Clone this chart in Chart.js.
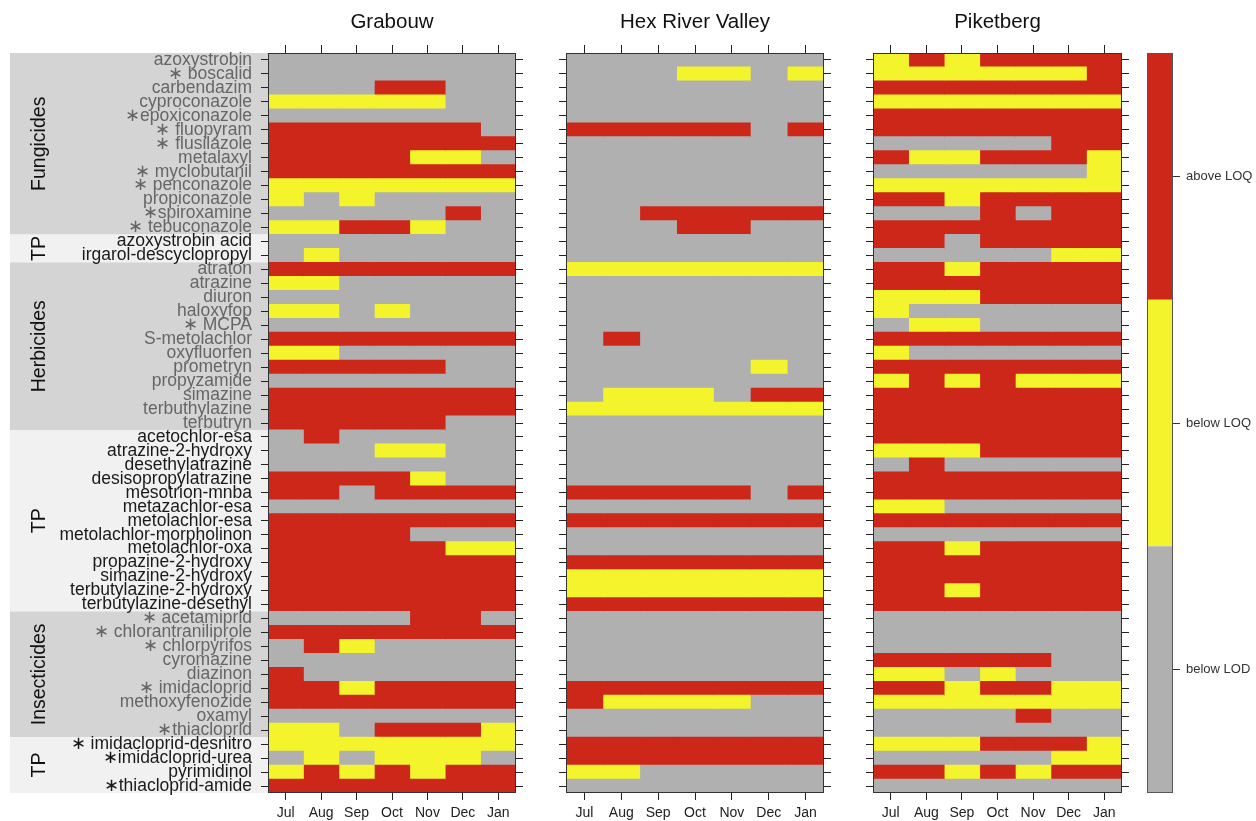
<!DOCTYPE html>
<html>
<head>
<meta charset="utf-8">
<title>Pesticide detections per site and month</title>
<script src="https://cdn.jsdelivr.net/npm/chart.js@4.4.1/dist/chart.umd.min.js"></script>
<style>
  html, body { margin: 0; padding: 0; background: #fff; }
  #wrap { position: relative; width: 1256px; height: 821px; overflow: hidden; }
  #wrap canvas { position: absolute; top: 0; }
</style>
</head>
<body>
<div id="wrap">
  <canvas id="grabouw"></canvas>
  <canvas id="hexriver"></canvas>
  <canvas id="piketberg"></canvas>
  <canvas id="levels"></canvas>
</div>
<script>
const MONTHS = ["Jul", "Aug", "Sep", "Oct", "Nov", "Dec", "Jan"];

const COMPOUNDS = [
  "azoxystrobin", "∗ boscalid", "carbendazim", "cyproconazole", "∗epoxiconazole",
  "∗ fluopyram", "∗ flusilazole", "metalaxyl", "∗ myclobutanil", "∗ penconazole",
  "propiconazole", "∗spiroxamine", "∗ tebuconazole",
  "azoxystrobin acid", "irgarol-descyclopropyl",
  "atraton", "atrazine", "diuron", "haloxyfop", "∗ MCPA", "S-metolachlor",
  "oxyfluorfen", "prometryn", "propyzamide", "simazine", "terbuthylazine", "terbutryn",
  "acetochlor-esa", "atrazine-2-hydroxy", "desethylatrazine", "desisopropylatrazine",
  "mesotrion-mnba", "metazachlor-esa", "metolachlor-esa", "metolachlor-morpholinon",
  "metolachlor-oxa", "propazine-2-hydroxy", "simazine-2-hydroxy",
  "terbutylazine-2-hydroxy", "terbutylazine-desethyl",
  "∗ acetamiprid", "∗ chlorantraniliprole", "∗ chlorpyrifos", "cyromazine", "diazinon",
  "∗ imidacloprid", "methoxyfenozide", "oxamyl", "∗thiacloprid",
  "∗ imidacloprid-desnitro", "∗imidacloprid-urea", "pyrimidinol", "∗thiacloprid-amide"
];

// compound classes (row ranges), TP = transformation products
const GROUPS = [
  { name: "Fungicides", from: 0, to: 12, tp: false },
  { name: "TP", from: 13, to: 14, tp: true },
  { name: "Herbicides", from: 15, to: 26, tp: false },
  { name: "TP", from: 27, to: 39, tp: true },
  { name: "Insecticides", from: 40, to: 48, tp: false },
  { name: "TP", from: 49, to: 52, tp: true }
];

// 0 = below LOD, 1 = below LOQ, 2 = above LOQ
const LEVELS = ["below LOD", "below LOQ", "above LOQ"];
const LEVEL_COLORS = ["#b0b0b0", "#f4f42c", "#cc2718"];

const GRABOUW = [
  [0,0,0,0,0,0,0], [0,0,0,0,0,0,0], [0,0,0,2,2,0,0], [1,1,1,1,1,0,0],
  [0,0,0,0,0,0,0], [2,2,2,2,2,2,0], [2,2,2,2,2,2,2], [2,2,2,2,1,1,0],
  [2,2,2,2,2,2,2], [1,1,1,1,1,1,1], [1,0,1,0,0,0,0], [0,0,0,0,0,2,0],
  [1,1,2,2,1,0,0],
  [0,0,0,0,0,0,0], [0,1,0,0,0,0,0],
  [2,2,2,2,2,2,2], [1,1,0,0,0,0,0], [0,0,0,0,0,0,0], [1,1,0,1,0,0,0],
  [0,0,0,0,0,0,0], [2,2,2,2,2,2,2], [1,1,0,0,0,0,0], [2,2,2,2,2,0,0],
  [0,0,0,0,0,0,0], [2,2,2,2,2,2,2], [2,2,2,2,2,2,2], [2,2,2,2,2,0,0],
  [0,2,0,0,0,0,0], [0,0,0,1,1,0,0], [0,0,0,0,0,0,0], [2,2,2,2,1,0,0],
  [2,2,0,2,2,2,2], [0,0,0,0,0,0,0], [2,2,2,2,2,2,2], [2,2,2,2,0,0,0],
  [2,2,2,2,2,1,1], [2,2,2,2,2,2,2], [2,2,2,2,2,2,2], [2,2,2,2,2,2,2],
  [2,2,2,2,2,2,2],
  [0,0,0,0,2,2,0], [2,2,2,2,2,2,2], [0,2,1,0,0,0,0], [0,0,0,0,0,0,0],
  [2,0,0,0,0,0,0], [2,2,1,2,2,2,2], [2,2,2,2,2,2,2], [0,0,0,0,0,0,0],
  [1,1,0,2,2,2,1],
  [1,1,1,1,1,1,1], [0,1,0,1,1,1,0], [1,2,1,2,1,2,2], [2,2,2,2,2,2,2]
];

const HEX_RIVER = [
  [0,0,0,0,0,0,0], [0,0,0,1,1,0,1], [0,0,0,0,0,0,0], [0,0,0,0,0,0,0],
  [0,0,0,0,0,0,0], [2,2,2,2,2,0,2], [0,0,0,0,0,0,0], [0,0,0,0,0,0,0],
  [0,0,0,0,0,0,0], [0,0,0,0,0,0,0], [0,0,0,0,0,0,0], [0,0,2,2,2,2,2],
  [0,0,0,2,2,0,0],
  [0,0,0,0,0,0,0], [0,0,0,0,0,0,0],
  [1,1,1,1,1,1,1], [0,0,0,0,0,0,0], [0,0,0,0,0,0,0], [0,0,0,0,0,0,0],
  [0,0,0,0,0,0,0], [0,2,0,0,0,0,0], [0,0,0,0,0,0,0], [0,0,0,0,0,1,0],
  [0,0,0,0,0,0,0], [0,1,1,1,0,2,2], [1,1,1,1,1,1,1], [0,0,0,0,0,0,0],
  [0,0,0,0,0,0,0], [0,0,0,0,0,0,0], [0,0,0,0,0,0,0], [0,0,0,0,0,0,0],
  [2,2,2,2,2,0,2], [0,0,0,0,0,0,0], [2,2,2,2,2,2,2], [0,0,0,0,0,0,0],
  [0,0,0,0,0,0,0], [2,2,2,2,2,2,2], [1,1,1,1,1,1,1], [1,1,1,1,1,1,1],
  [2,2,2,2,2,2,2],
  [0,0,0,0,0,0,0], [0,0,0,0,0,0,0], [0,0,0,0,0,0,0], [0,0,0,0,0,0,0],
  [0,0,0,0,0,0,0], [2,2,2,2,2,2,2], [2,1,1,1,1,0,0], [0,0,0,0,0,0,0],
  [0,0,0,0,0,0,0],
  [2,2,2,2,2,2,2], [2,2,2,2,2,2,2], [1,1,0,0,0,0,0], [0,0,0,0,0,0,0]
];

const PIKETBERG = [
  [1,2,1,2,2,2,2], [1,1,1,1,1,1,2], [2,2,2,2,2,2,2], [1,1,1,1,1,1,1],
  [2,2,2,2,2,2,2], [2,2,2,2,2,2,2], [0,0,0,0,0,2,2], [2,1,1,2,2,2,1],
  [0,0,0,0,0,0,1], [1,1,1,1,1,1,1], [2,2,1,2,2,2,2], [0,0,0,2,0,2,2],
  [2,2,2,2,2,2,2],
  [2,2,0,2,2,2,2], [0,0,0,0,0,1,1],
  [2,2,1,2,2,2,2], [2,2,2,2,2,2,2], [1,1,1,2,2,2,2], [1,0,0,0,0,0,0],
  [0,1,1,0,0,0,0], [2,2,2,2,2,2,2], [1,0,0,0,0,0,0], [2,2,2,2,2,2,2],
  [1,2,1,2,1,1,1], [2,2,2,2,2,2,2], [2,2,2,2,2,2,2], [2,2,2,2,2,2,2],
  [2,2,2,2,2,2,2], [1,1,1,2,2,2,2], [0,2,0,0,0,0,0], [2,2,2,2,2,2,2],
  [2,2,2,2,2,2,2], [1,1,0,0,0,0,0], [2,2,2,2,2,2,2], [0,0,0,0,0,0,0],
  [2,2,1,2,2,2,2], [2,2,2,2,2,2,2], [2,2,2,2,2,2,2], [2,2,1,2,2,2,2],
  [2,2,2,2,2,2,2],
  [0,0,0,0,0,0,0], [0,0,0,0,0,0,0], [0,0,0,0,0,0,0], [2,2,2,2,2,0,0],
  [1,1,0,1,0,0,0], [2,2,1,2,2,1,1], [1,1,1,1,1,1,1], [0,0,0,0,2,0,0],
  [0,0,0,0,0,0,0],
  [1,1,1,2,2,2,1], [0,0,0,0,0,1,1], [2,2,1,2,1,2,2], [0,0,0,0,0,0,0]
];

const FONT = '"Liberation Sans", Arial, Helvetica, sans-serif';
Chart.defaults.font.family = FONT;
Chart.defaults.animation = false;
Chart.defaults.plugins.legend.display = false;
Chart.defaults.plugins.tooltip.enabled = false;

const H = 821, AREA_TOP = 53, AREA_BOTTOM = 793;

function groupOf(i) {
  return GROUPS.find(g => i >= g.from && i <= g.to);
}

// outline round the plotting area
const frame = {
  id: "frame",
  afterDatasetsDraw(chart, args, opts) {
    const { ctx, chartArea: a } = chart;
    ctx.save();
    ctx.strokeStyle = opts.color || "#333";
    ctx.lineWidth = 1;
    ctx.strokeRect(a.left + 0.5, a.top + 0.5, a.right - a.left - 1, a.bottom - a.top - 1);
    ctx.restore();
  }
};

// site name above each panel
const panelTitle = {
  id: "panelTitle",
  afterDraw(chart, args, opts) {
    const { ctx, chartArea: a } = chart;
    ctx.save();
    ctx.font = "20.5px " + FONT;
    ctx.fillStyle = "#111";
    ctx.textAlign = "center";
    ctx.textBaseline = "middle";
    ctx.fillText(opts.text, (a.left + a.right) / 2, 22);
    ctx.restore();
  }
};

// shaded class bands with rotated names behind the compound labels
const groupBands = {
  id: "groupBands",
  beforeDraw(chart) {
    const { ctx, chartArea: a } = chart;
    const y = chart.scales.y;
    const half = (y.getPixelForValue(1) - y.getPixelForValue(0)) / 2;
    ctx.save();
    GROUPS.forEach(g => {
      const top = y.getPixelForValue(g.from) - half;
      const bottom = y.getPixelForValue(g.to) + half;
      ctx.fillStyle = g.tp ? "#f1f1f1" : "#d4d4d4";
      ctx.fillRect(10, top, a.left - 10, bottom - top);
      ctx.save();
      ctx.translate(40, (top + bottom) / 2);
      ctx.rotate(-Math.PI / 2);
      ctx.font = "19.5px " + FONT;
      ctx.fillStyle = "#111";
      ctx.textAlign = "center";
      ctx.textBaseline = "middle";
      ctx.fillText(g.name, 0, 0);
      ctx.restore();
    });
    ctx.restore();
  }
};

function place(id, box) {
  const canvas = document.getElementById(id);
  canvas.width = box.width;
  canvas.height = H;
  canvas.style.left = box.left + "px";
  return canvas;
}

function tickGrid(len) {
  return { drawOnChartArea: false, tickLength: len, color: "#222", lineWidth: 1 };
}

function monthTicks(scale) {
  scale.ticks = MONTHS.map((m, i) => ({ value: i + 0.5 }));
}

function heatPanel(id, title, rows, box, withLabels) {
  const canvas = place(id, box);
  const leftW = box.areaLeft - box.left;
  const rightW = box.left + box.width - box.areaRight;
  return new Chart(canvas, {
    type: "bar",
    data: {
      labels: COMPOUNDS,
      // one floating bar per compound and month
      datasets: MONTHS.map((m, j) => ({
        label: m,
        data: rows.map(() => [j, j + 1]),
        backgroundColor: rows.map(r => LEVEL_COLORS[r[j]]),
        borderWidth: 0,
        barPercentage: 1,
        categoryPercentage: 1,
        grouped: false,
        inflateAmount: 0.4
      }))
    },
    options: {
      responsive: false,
      indexAxis: "y",
      scales: {
        x: {
          type: "linear", position: "bottom", min: 0, max: MONTHS.length,
          afterBuildTicks: monthTicks,
          afterFit: s => { s.height = H - AREA_BOTTOM; },
          ticks: {
            autoSkip: false, maxRotation: 0, padding: 5, color: "#222",
            font: { size: 14 }, callback: (v, i) => MONTHS[i]
          },
          grid: tickGrid(7),
          border: { display: false }
        },
        xTop: {
          type: "linear", position: "top", min: 0, max: MONTHS.length,
          afterBuildTicks: monthTicks,
          afterFit: s => { s.height = AREA_TOP; },
          ticks: { display: false },
          grid: tickGrid(8),
          border: { display: false }
        },
        y: {
          type: "category", position: "left", offset: true,
          afterFit: s => { s.width = leftW; },
          ticks: {
            display: withLabels, autoSkip: false, padding: 9,
            font: { size: 17.5 },
            color: c => (groupOf(c.index).tp ? "#1a1a1a" : "#666")
          },
          grid: Object.assign(tickGrid(7), { offset: false }),
          border: { display: false }
        },
        yRight: {
          type: "category", position: "right", offset: true,
          afterFit: s => { s.width = rightW; },
          ticks: { display: false },
          grid: Object.assign(tickGrid(7), { offset: false }),
          border: { display: false }
        }
      },
      plugins: { panelTitle: { text: title }, frame: { color: "#333" } }
    },
    plugins: withLabels ? [groupBands, frame, panelTitle] : [frame, panelTitle]
  });
}

function levelKey(id, box) {
  const canvas = place(id, box);
  return new Chart(canvas, {
    type: "bar",
    data: {
      labels: [""],
      datasets: LEVELS.map((name, k) => ({
        label: name,
        data: [1],
        backgroundColor: LEVEL_COLORS[k],
        borderWidth: 0,
        barPercentage: 1,
        categoryPercentage: 1,
        inflateAmount: 0
      }))
    },
    options: {
      responsive: false,
      layout: { padding: { left: box.areaLeft - box.left, top: AREA_TOP, bottom: H - AREA_BOTTOM } },
      scales: {
        x: { stacked: true, display: false },
        y: {
          stacked: true, position: "right", min: 0, max: LEVELS.length,
          afterBuildTicks: s => { s.ticks = LEVELS.map((n, k) => ({ value: k + 0.5 })); },
          afterFit: s => { s.width = box.left + box.width - box.areaRight; },
          ticks: {
            autoSkip: false, padding: 6, color: "#333",
            font: { size: 13 }, callback: (v, i) => LEVELS[i]
          },
          grid: { drawOnChartArea: false, tickLength: 7, color: "#333" },
          border: { display: false }
        }
      },
      plugins: { frame: { color: "#555" } }
    },
    plugins: [frame]
  });
}

heatPanel("grabouw", "Grabouw", GRABOUW,
  { left: 0, width: 540, areaLeft: 268, areaRight: 516 }, true);
heatPanel("hexriver", "Hex River Valley", HEX_RIVER,
  { left: 542, width: 300, areaLeft: 566, areaRight: 824 }, false);
heatPanel("piketberg", "Piketberg", PIKETBERG,
  { left: 846, width: 294, areaLeft: 873, areaRight: 1122 }, false);
levelKey("levels", { left: 1140, width: 116, areaLeft: 1147, areaRight: 1173 });
</script>
</body>
</html>
